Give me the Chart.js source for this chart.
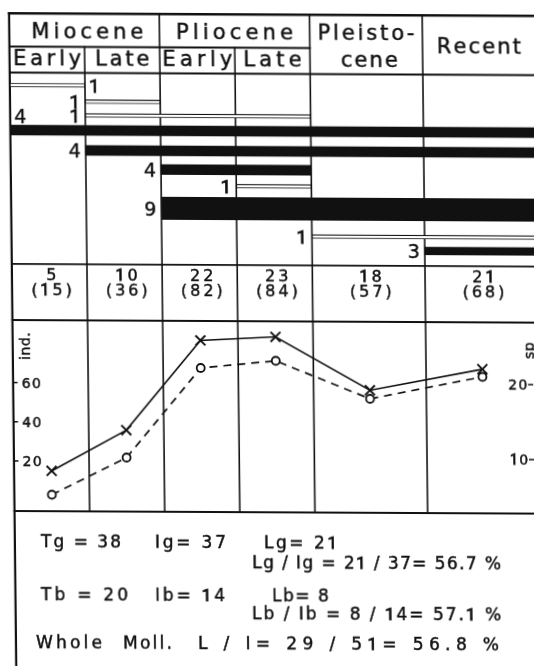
<!DOCTYPE html>
<html><head><meta charset="utf-8">
<script src="https://cdn.jsdelivr.net/npm/chart.js@4.4.1/dist/chart.umd.min.js"></script>
<style>
html,body{margin:0;padding:0;background:#fff;overflow:hidden;}
body{width:534px;height:666px;position:relative;}
#wrap{position:absolute;left:0;top:0;width:560px;height:666px;transform-origin:0 0;transform:matrix(1,0.005,0.011,1,0,0);}
canvas{display:block}
</style></head><body>
<div id="wrap"><canvas id="c" width="560" height="666"></canvas></div>
<script>
// ---------------- data ----------------
const periods = ['Miocene Early', 'Miocene Late', 'Pliocene Early', 'Pliocene Late', 'Pleistocene', 'Recent'];
const subPeriodNames = ['Early', 'Late', 'Early', 'Late'];
const periodStart = [0, 1, 2, 3, 4, 5.5];
const periodEnd   = [1, 2, 3, 4, 5.5, 7];
const speciesCount    = [5, 10, 22, 23, 18, 21];
const individualCount = [15, 36, 82, 84, 57, 68];
// stratigraphic ranges (first / last period index, number of species, track row)
const bandFirst = [0, 1, 1, 0, 1, 2, 3, 2, 4, 5];
const bandLast  = [0, 1, 3, 5, 5, 3, 3, 5, 5, 5];
const bandCount = [1, 1, 1, 4, 4, 4, 1, 9, 1, 3];
const bandRow   = [5, 11.5, 17, 23, 31, 38.5, 45, 54, 65, 70.5];
const indTicks = [20, 40, 60];
const spTicks  = [10, 20];
const summaryRows = [
  ['Tg = 38', 'Ig= 37', 'Lg= 21'],
  ['Lg / Ig = 21 / 37= 56.7 %'],
  ['Tb = 20', 'Ib= 14', 'Lb= 8'],
  ['Lb / Ib = 8 / 14= 57.1 %'],
  ['Whole', 'Moll.', 'L / I= 29 / 51= 56.8 %']
];

// ---------------- layout ----------------
const FONT = '"DejaVu Sans", "Liberation Sans", sans-serif';
const FONT_ONE = 'Roboto, "Liberation Sans", sans-serif'; // plain "1" without foot
const REG = {top: 13.3, hdrMid: 46.5, hdrBot: 72.5, cntTop: 263.8, plotTop: 320, plotBot: 511, bottom: 666};
const BAND_MAX = 76.5;
const SPECIES_PX = (REG.cntTop - REG.hdrBot) / BAND_MAX;
const INK = '#111';
const TEXT_STROKE = 0.45;

function fontFor(c, size) { return size + 'px ' + (c === '1' ? FONT_ONE : FONT); }
function charWidths(ctx, text, size) { return [...text].map(c => { ctx.font = fontFor(c, size); return ctx.measureText(c).width; }); }
function drawSpaced(ctx, text, x, y, size, spacing, align) {
  const chars = [...text];
  const w = charWidths(ctx, text, size);
  const total = w.reduce((a, b) => a + b, 0) + spacing * (chars.length - 1);
  let s = align === 'center' ? x - total / 2 : align === 'right' ? x - total : x;
  ctx.textAlign = 'left';
  ctx.lineWidth = TEXT_STROKE;
  chars.forEach((c, i) => {
    ctx.font = fontFor(c, size);
    const extra = c === '1' ? 0.35 : 0;
    ctx.fillText(c, s, y); ctx.lineWidth = TEXT_STROKE + extra; ctx.strokeText(c, s, y); ctx.lineWidth = TEXT_STROKE;
    s += w[i] + spacing;
  });
}
function drawFitted(ctx, text, x, y, size, width, align) {
  const chars = [...text];
  const nat = charWidths(ctx, text, size).reduce((a, b) => a + b, 0);
  const sp = chars.length > 1 ? (width - nat) / (chars.length - 1) : 0;
  drawSpaced(ctx, text, x, y, size, sp, align);
}

const placeScales = {
  id: 'placeScales',
  afterLayout(chart) {
    const set = (id, t, b) => { const s = chart.scales[id]; s.top = t; s.bottom = b; s.height = b - t; s.configure(); };
    set('yBand', REG.hdrBot, REG.cntTop);
    set('yInd', REG.plotTop, REG.plotBot);
    set('ySp', REG.plotTop, REG.plotBot);
  }
};

const frame = {
  id: 'frame',
  beforeDatasetsDraw(chart) {
    const ctx = chart.ctx, X = v => chart.scales.x.getPixelForValue(v);
    const L = chart.chartArea.left, R = chart.width;
    ctx.save();
    ctx.strokeStyle = INK; ctx.lineCap = 'square';
    const h = (y, a, b, w) => { ctx.lineWidth = w || 1.8; ctx.beginPath(); ctx.moveTo(a, y); ctx.lineTo(b, y); ctx.stroke(); };
    const v = (x, a, b, w) => { ctx.lineWidth = w || 1.8; ctx.beginPath(); ctx.moveTo(x, a); ctx.lineTo(x, b); ctx.stroke(); };
    h(REG.top, L, R, 2.4);
    h(REG.hdrMid, L, X(periodStart[4]));
    h(REG.hdrBot, L, R);
    h(REG.cntTop, L, R);
    h(REG.plotTop, L, R, 2.2);
    h(REG.plotBot, L, R, 2.2);
    v(L, REG.top, REG.bottom, 2.2);
    for (let i = 1; i < periods.length; i++) {
      const sub = (i === 1 || i === 3);
      v(X(periodStart[i]), sub ? REG.hdrMid : REG.top, REG.plotBot, 1.6);
    }
    ctx.restore();
  },
  afterDraw(chart) {
    const ctx = chart.ctx, X = v => chart.scales.x.getPixelForValue(v);
    const YB = v => chart.scales.yBand.getPixelForValue(v);
    const yInd = chart.scales.yInd, ySp = chart.scales.ySp;
    const L = chart.chartArea.left;
    ctx.save();
    ctx.fillStyle = INK; ctx.strokeStyle = INK; ctx.textBaseline = 'alphabetic';
    // headers
    const mid = (a, b) => (X(a) + X(b)) / 2;
    drawFitted(ctx, 'Miocene', mid(periodStart[0], periodEnd[1]) + 3, 38, 21, 112, 'center');
    drawFitted(ctx, 'Pliocene', mid(periodStart[2], periodEnd[3]), 38, 21, 117, 'center');
    drawFitted(ctx, 'Pleisto-', mid(periodStart[4], periodEnd[4]), 37.5, 21, 97, 'center');
    drawFitted(ctx, 'cene', mid(periodStart[4], periodEnd[4]) + 3, 65, 21, 57, 'center');
    drawFitted(ctx, 'Recent', mid(periodStart[5], periodEnd[5]), 51, 21, 84, 'center');
    const subW = [68, 54, 70, 58];
    subPeriodNames.forEach((t, i) => drawFitted(ctx, t, mid(periodStart[i], periodEnd[i]), 65, 21, subW[i], 'center'));
    // counts row
    periods.forEach((p, i) => {
      const cx = mid(periodStart[i], periodEnd[i]) + 2;
      drawSpaced(ctx, String(speciesCount[i]), cx, 279.5, 16, 3, 'center');
      drawSpaced(ctx, '(' + individualCount[i] + ')', cx, 295, 16, 3, 'center');
    });
    // band labels
    bandCount.forEach((n, i) => {
      const xs = X(periodStart[bandFirst[i]]), xe = X(periodEnd[bandLast[i]]);
      const yc = YB(bandRow[i]);
      const th = n === 1 ? 4 : n * SPECIES_PX;
      if (bandFirst[i] === 0) {
        if (bandLast[i] < periods.length - 1) drawSpaced(ctx, String(n), xe + 4, yc + 7, 19, 0, 'left');
        else drawSpaced(ctx, String(n), xs + 4, yc - th / 2 - 2, 19, 0, 'left');
      } else drawSpaced(ctx, String(n), xs - 5, yc + 7, 19, 0, 'right');
    });
    // left axis (individuals)
    indTicks.forEach(t => {
      const y = yInd.getPixelForValue(t);
      ctx.lineWidth = 1.5;
      ctx.beginPath(); ctx.moveTo(L, y); ctx.lineTo(L + 4.5, y); ctx.stroke();
      drawSpaced(ctx, String(t), L + 8.5, y + 5, 14, 1.5, 'left');
    });
    ctx.save(); ctx.translate(L + 12, 346); ctx.rotate(-Math.PI / 2);
    drawSpaced(ctx, 'ind.', 0, 5, 14, 0.5, 'center');
    ctx.restore();
    // right axis (species)
    const xr = X(periodEnd[5]);
    spTicks.forEach(t => {
      const y = ySp.getPixelForValue(t);
      ctx.lineWidth = 1.5;
      ctx.beginPath(); ctx.moveTo(xr - 10.7, y); ctx.lineTo(xr - 5.7, y); ctx.stroke();
      drawSpaced(ctx, String(t), xr - 11.5, y + 5, 14, 1.5, 'right');
    });
    ctx.save(); ctx.translate(xr - 10, 348); ctx.rotate(-Math.PI / 2);
    drawSpaced(ctx, 'sp', 0, 5, 14, 0.5, 'center');
    ctx.restore();
    // summary text
    const pos = [
      [[35, 80], [149, 71], [258, 73]],
      [[246, 249]],
      [[34.5, 87], [148.5, 70], [265.4, 57]],
      [[245.3, 249]],
      [[29, 66], [116, 49], [191, 301]]
    ];
    const base = [546.7, 566.8, 599.8, 617.7, 647.8];
    summaryRows.forEach((row, r) => row.forEach((t, k) => drawFitted(ctx, t, pos[r][k][0], base[r], 17, pos[r][k][1], 'left')));
    ctx.restore();
  }
};

const bandDatasets = bandCount.map((n, i) => ({
  type: 'bar', indexAxis: 'y', xAxisID: 'x', yAxisID: 'yBand',
  label: 'range ' + (i + 1),
  data: [{x: [periodStart[bandFirst[i]], periodEnd[bandLast[i]]], y: bandRow[i]}],
  barThickness: n === 1 ? 4 : n * SPECIES_PX,
  backgroundColor: n === 1 ? '#fff' : INK,
  borderColor: INK,
  borderWidth: n === 1 ? 1.2 : 0,
  borderSkipped: false,
  grouped: false
}));
const mids = periods.map((p, i) => (periodStart[i] + periodEnd[i]) / 2);

new Chart(document.getElementById('c'), {
  type: 'bar',
  data: {
    datasets: [
      ...bandDatasets,
      {type: 'line', label: 'individuals', xAxisID: 'x', yAxisID: 'yInd',
       data: individualCount.map((v, i) => ({x: mids[i], y: v})),
       borderColor: INK, borderWidth: 1.6, tension: 0, fill: false,
       pointStyle: 'crossRot', pointRadius: 7, pointBorderWidth: 1.9, pointBorderColor: INK, pointBackgroundColor: '#fff'},
      {type: 'line', label: 'species', xAxisID: 'x', yAxisID: 'ySp',
       data: speciesCount.map((v, i) => ({x: mids[i], y: v})),
       borderColor: INK, borderWidth: 1.7, borderDash: [8, 6], tension: 0, fill: false,
       pointStyle: 'circle', pointRadius: 4, pointBorderWidth: 1.8, pointBorderColor: INK, pointBackgroundColor: '#fff'}
    ]
  },
  options: {
    responsive: false, animation: false, devicePixelRatio: 1,
    layout: {padding: {left: 7.3, right: 560 - 534.7, top: REG.top, bottom: 0}},
    plugins: {legend: {display: false}, tooltip: {enabled: false}},
    scales: {
      x: {type: 'linear', axis: 'x', min: 0, max: 7, offset: false, display: false, grid: {offset: false}},
      yBand: {type: 'linear', axis: 'y', min: 0, max: BAND_MAX, reverse: true, offset: false, display: false, grid: {offset: false}},
      yInd: {type: 'linear', axis: 'y', min: -5.56, max: 91.93, offset: false, display: false},
      ySp: {type: 'linear', axis: 'y', min: 2.8, max: 28.27, offset: false, display: false}
    }
  },
  plugins: [placeScales, frame]
});
</script></body></html>
